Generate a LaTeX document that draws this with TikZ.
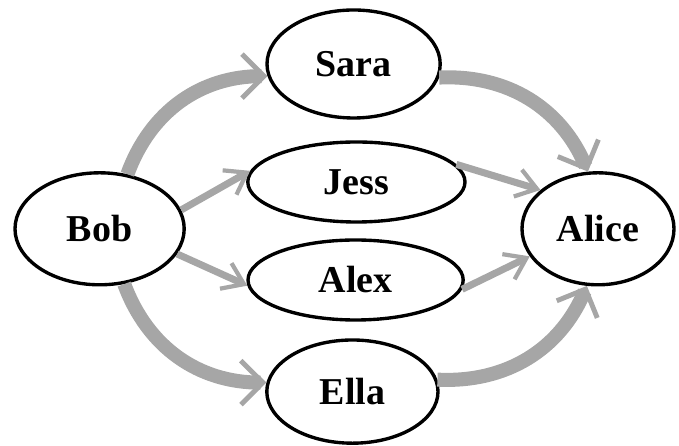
\documentclass[tikz,border=0pt]{standalone}
\usepackage{fontspec}
\setmainfont{Liberation Serif}
\usetikzlibrary{arrows.meta,shapes.geometric}
\definecolor{flowgray}{RGB}{166,166,166}

\begin{document}
\begin{tikzpicture}
[person/.style={ellipse,draw,line width=2.4pt,inner sep=0pt,font=\fontsize{27}{30}\selectfont\bfseries},
 thickflow/.style={draw=flowgray,line width=10pt,-{Straight Barb[length=5.5mm,width=11mm,line width=3.5pt]}},
 thinflow/.style={draw=flowgray,line width=5pt,-{Straight Barb[length=5mm,width=7mm,line width=3pt]}}]
\useasboundingbox (0,0) rectangle (16.975,11.15);
\draw (2.49,5.43) node[person,minimum width=4.23cm,minimum height=2.8cm] (bob) {Bob};
\draw (8.84,9.55) node[person,minimum width=4.33cm,minimum height=2.7cm] (sara) {Sara};
\draw (8.91,6.6) node[person,minimum width=5.43cm,minimum height=2cm] (jess) {Jess};
\draw (8.89,4.15) node[person,minimum width=5.38cm,minimum height=2cm] (alex) {Alex};
\draw (8.81,1.36) node[person,minimum width=4.28cm,minimum height=2.58cm] (ella) {Ella};
\draw (14.95,5.43) node[person,minimum width=3.8cm,minimum height=2.8cm] (alice) {Alice};
\draw[thickflow](bob.63) to[bend left=35] (sara.188);
\draw[thickflow](sara.-9) to[bend left=35] (alice.100);
\draw[thickflow](bob.-66) to[bend right=35] (ella.174);
\draw[thickflow](ella.8) to[bend right=35] (alice.259);
\draw[thinflow](bob.13)--(jess.174);
\draw[thinflow](jess.10)--(alice.146);
\draw[thinflow](bob.-18)--(alex.183);
\draw[thinflow](alex.-5)--(alice.202);
\end{tikzpicture}
\end{document}
